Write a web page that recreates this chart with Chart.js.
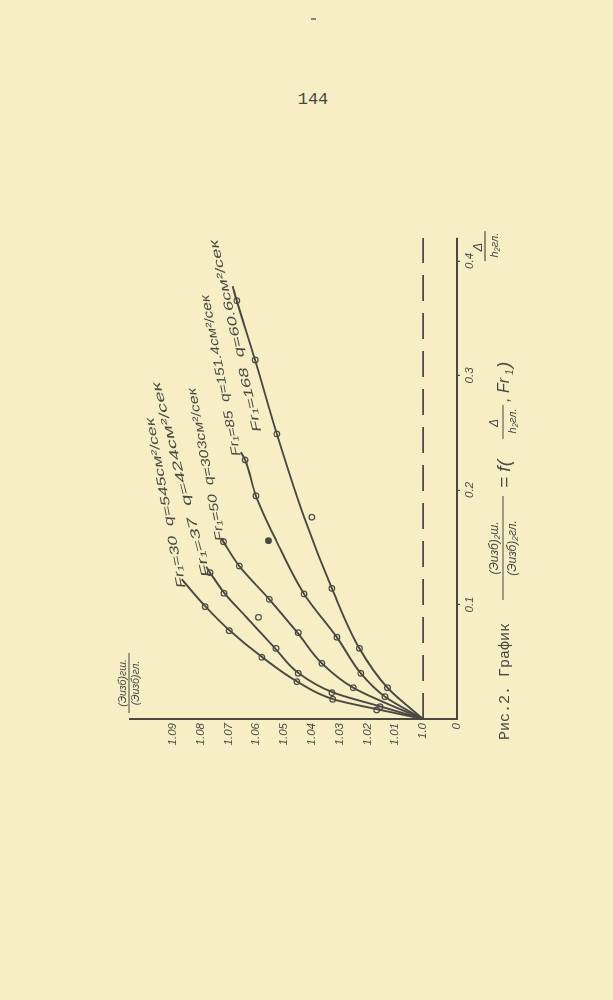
<!DOCTYPE html>
<html><head><meta charset="utf-8">
<script src="https://cdn.jsdelivr.net/npm/chart.js@4/dist/chart.umd.min.js"></script>
<style>
html,body{margin:0;padding:0;background:#f6efc6;width:613px;height:1000px;overflow:hidden;}
#wrap{position:absolute;left:40px;top:260px;width:600px;height:480px;transform:rotate(-90deg);}
#c{display:block;}
#pg{position:absolute;left:0;width:626px;top:90px;text-align:center;font:17px "Liberation Mono",monospace;color:#4a4740;}
#mark{position:absolute;left:311px;top:18px;width:5px;height:2px;background:#8a857a;}
</style></head><body>
<div id="mark"></div>
<div id="pg">144</div>
<div id="wrap"><canvas id="c" width="600" height="480"></canvas></div>
<script>
// axis ticks (x = Δ/h, y = ratio of energies)
const deltaTicks=[0.1,0.2,0.3,0.4];
const deltaTickLabels=['0.1','0.2','0.3','0.4'];
const ratioTicks=[0.9878,1.00,1.01,1.02,1.03,1.04,1.05,1.06,1.07,1.08,1.09];
const ratioTickLabels=['0','1.0','1.01','1.02','1.03','1.04','1.05','1.06','1.07','1.08','1.09'];
const deltaMax=0.42, ratioMin=0.9878, ratioMax=1.1054;

// Fr1 = 30, q = 545
const fr30LineD=[0,0.008,0.0172,0.0326,0.0539,0.0771,0.0981,0.122];
const fr30LineR=[1.0,1.0155,1.0322,1.0452,1.0578,1.0695,1.0782,1.0868];
const fr30PtD=[0.0079,0.0172,0.0326,0.0539,0.0771,0.0981];
const fr30PtR=[1.0167,1.0325,1.0454,1.0580,1.0697,1.0784];
// Fr1 = 37, q = 424
const fr37LineD=[0,0.0107,0.023,0.0399,0.0617,0.0888,0.1098,0.1278,0.133];
const fr37LineR=[1.0,1.0150,1.0322,1.0447,1.0532,1.0635,1.0714,1.0766,1.0780];
const fr37PtD=[0.0107,0.023,0.0399,0.0617,0.0888,0.1098,0.1278];
const fr37PtR=[1.0155,1.0328,1.0449,1.0529,1.0592,1.0716,1.0766];
// Fr1 = 50, q = 303
const fr50LineD=[0,0.0273,0.0486,0.0754,0.1045,0.1336,0.1548,0.158];
const fr50LineR=[1.0,1.0251,1.0364,1.0452,1.0553,1.0661,1.0718,1.0726];
const fr50PtD=[0.0273,0.0486,0.0754,0.1045,0.1336,0.1548];
const fr50PtR=[1.0251,1.0364,1.0449,1.0553,1.0661,1.0718];
// Fr1 = 85, q = 151.4
const fr85LineD=[0,0.0195,0.0399,0.0714,0.1092,0.1557,0.1948,0.2262,0.233];
const fr85LineR=[1.0,1.0137,1.0224,1.0310,1.0428,1.0528,1.0601,1.0640,1.0655];
const fr85PtD=[0.0195,0.0399,0.0714,0.1092,0.1557,0.1948,0.2262];
const fr85PtR=[1.0137,1.0224,1.0310,1.0428,1.0556,1.0601,1.0640];
// Fr1 = 168, q = 60.6
const fr168LineD=[0,0.0273,0.0617,0.1141,0.1762,0.2489,0.3135,0.3653,0.378];
const fr168LineR=[1.0,1.0128,1.0229,1.0328,1.0428,1.0526,1.0604,1.0670,1.0685];
const fr168PtD=[0.0273,0.0617,0.1141,0.1762,0.2489,0.3135,0.3653];
const fr168PtR=[1.0128,1.0229,1.0328,1.0400,1.0526,1.0604,1.0670];

// curve labels
const curveLabelText=['Fr\u2081=30  q=545см²/сек','Fr\u2081=37  q=424см²/сек','Fr\u2081=50  q=303см²/сек','Fr\u2081=85  q=151.4см²/сек','Fr\u2081=168  q=60.6см²/сек'];
const curveLabelStart=[[0.1144,1.0867],[0.1240,1.0777],[0.1555,1.0727],[0.2297,1.0669],[0.2507,1.0594]];
const curveLabelEnd=[[0.2629,1.0982],[0.2943,1.0960],[0.2891,1.0831],[0.3703,1.0784],[0.4183,1.0752]];

const ink='#4b4842', bg='#f6efc6';
const curves=[
 [fr30LineD,fr30LineR,fr30PtD,fr30PtR],
 [fr37LineD,fr37LineR,fr37PtD,fr37PtR],
 [fr50LineD,fr50LineR,fr50PtD,fr50PtR],
 [fr85LineD,fr85LineR,fr85PtD,fr85PtR],
 [fr168LineD,fr168LineR,fr168PtD,fr168PtR]
];
const datasets=[];
datasets.push({data:[{x:0,y:1.0},{x:deltaMax,y:1.0}],showLine:true,borderColor:ink,borderWidth:1.7,borderDash:[26,12],pointRadius:0});
curves.forEach((c,ci)=>{
  datasets.push({data:c[0].map((d,i)=>({x:d,y:c[1][i]})),showLine:true,borderColor:ink,borderWidth:1.9,pointRadius:0,cubicInterpolationMode:'monotone'});
  datasets.push({data:c[2].map((d,i)=>({x:d,y:c[3][i]})),showLine:false,pointRadius:2.8,pointBorderWidth:1.2,pointBorderColor:ink,
    pointBackgroundColor:c[2].map((d,i)=>(ci===3&&i===4)?ink:bg)});
});

const annot={id:'annot',afterDraw(chart){
  const {ctx,scales:{x,y},chartArea:a}=chart;
  ctx.save();
  ctx.fillStyle=ink;ctx.strokeStyle=ink;
  // curve labels
  curveLabelText.forEach((t,i)=>{
    const x0=x.getPixelForValue(curveLabelStart[i][0]),y0=y.getPixelForValue(curveLabelStart[i][1]);
    const x1=x.getPixelForValue(curveLabelEnd[i][0]),y1=y.getPixelForValue(curveLabelEnd[i][1]);
    const ang=Math.atan2(y1-y0,x1-x0),len=Math.hypot(x1-x0,y1-y0);
    ctx.save();ctx.translate(x0,y0);ctx.rotate(ang);
    ctx.font='italic 12.5px "Liberation Sans"';
    const w=ctx.measureText(t).width;
    ctx.scale(len/w,1);ctx.textBaseline='middle';ctx.textAlign='left';
    ctx.fillText(t,0,0);ctx.restore();
  });
  // Δ axis title
  const xt=x.getPixelForValue(0.412);
  ctx.font='italic 13px "Liberation Sans"';ctx.textAlign='center';ctx.textBaseline='middle';
  ctx.fillText('Δ',xt,a.bottom+21);
  ctx.lineWidth=1.2;ctx.beginPath();ctx.moveTo(xt-14,a.bottom+28);ctx.lineTo(xt+16,a.bottom+28);ctx.stroke();
  ctx.font='italic 11px "Liberation Sans"';
  ctx.fillText('h₂гл.',xt+2,a.bottom+38);
  // ratio axis title
  ctx.font='italic 10.5px "Liberation Sans"';ctx.textAlign='center';
  const yx=a.left+36;
  ctx.fillText('(Эизб)гш.',yx,a.top-7);
  ctx.beginPath();ctx.moveTo(yx-30,a.top-1);ctx.lineTo(yx+30,a.top-1);ctx.stroke();
  ctx.fillText('(Эизб)гл.',yx,a.top+6);
  // caption
  const cy=405;
  ctx.textAlign='left';ctx.textBaseline='middle';
  ctx.font='15px "Liberation Mono"';
  ctx.fillText('Рис.2. График',60,cy);
  ctx.font='italic 12px "Liberation Sans"';ctx.textAlign='center';
  ctx.fillText('(Эизб)₂ш.',252,cy-10);
  ctx.beginPath();ctx.moveTo(200,cy-2);ctx.lineTo(304,cy-2);ctx.stroke();
  ctx.fillText('(Эизб)₂гл.',252,cy+8);
  ctx.textAlign='left';ctx.font='italic 19px "Liberation Sans"';
  ctx.fillText('= f(',312,cy);
  ctx.font='italic 12px "Liberation Sans"';ctx.textAlign='center';
  ctx.fillText('Δ',377,cy-10);
  ctx.beginPath();ctx.moveTo(361,cy-2);ctx.lineTo(395,cy-2);ctx.stroke();
  ctx.font='italic 11px "Liberation Sans"';
  ctx.fillText('h₂гл.',379,cy+8);
  ctx.textAlign='left';ctx.font='italic 16px "Liberation Sans"';
  ctx.fillText(', Fr',398,cy);
  ctx.font='italic 10px "Liberation Sans"';ctx.fillText('1',425,cy+5);
  ctx.font='italic 19px "Liberation Sans"';ctx.fillText(')',432,cy);
  ctx.restore();
}};

new Chart(document.getElementById('c'),{
  type:'scatter',
  data:{datasets},
  options:{
    responsive:false,animation:false,events:[],
    layout:{padding:{top:30,right:38,left:0,bottom:0}},
    plugins:{legend:{display:false},tooltip:{enabled:false}},
    scales:{
      x:{type:'linear',min:0,max:deltaMax,position:'bottom',
        afterBuildTicks:s=>{s.ticks=deltaTicks.map(v=>({value:v}));},
        afterFit:s=>{s.height=123;},
        ticks:{callback:(v,i)=>deltaTickLabels[i],color:ink,font:{family:'Liberation Sans',style:'italic',size:11.5},padding:3,maxRotation:0,minRotation:0,autoSkip:false},
        grid:{drawOnChartArea:false,drawTicks:true,tickLength:3,color:ink,lineWidth:1.2},
        border:{display:true,color:ink,width:2}},
      y:{type:'linear',min:ratioMin,max:ratioMax,position:'left',
        afterBuildTicks:s=>{s.ticks=ratioTicks.map(v=>({value:v}));},
        afterFit:s=>{s.width=81;},
        ticks:{callback:(v,i)=>ratioTickLabels[i],color:ink,font:{family:'Liberation Sans',style:'italic',size:11.5},padding:4,autoSkip:false},
        grid:{drawOnChartArea:false,drawTicks:false},
        border:{display:true,color:ink,width:2}}
    }
  },
  plugins:[annot]
});
</script>
</body></html>
